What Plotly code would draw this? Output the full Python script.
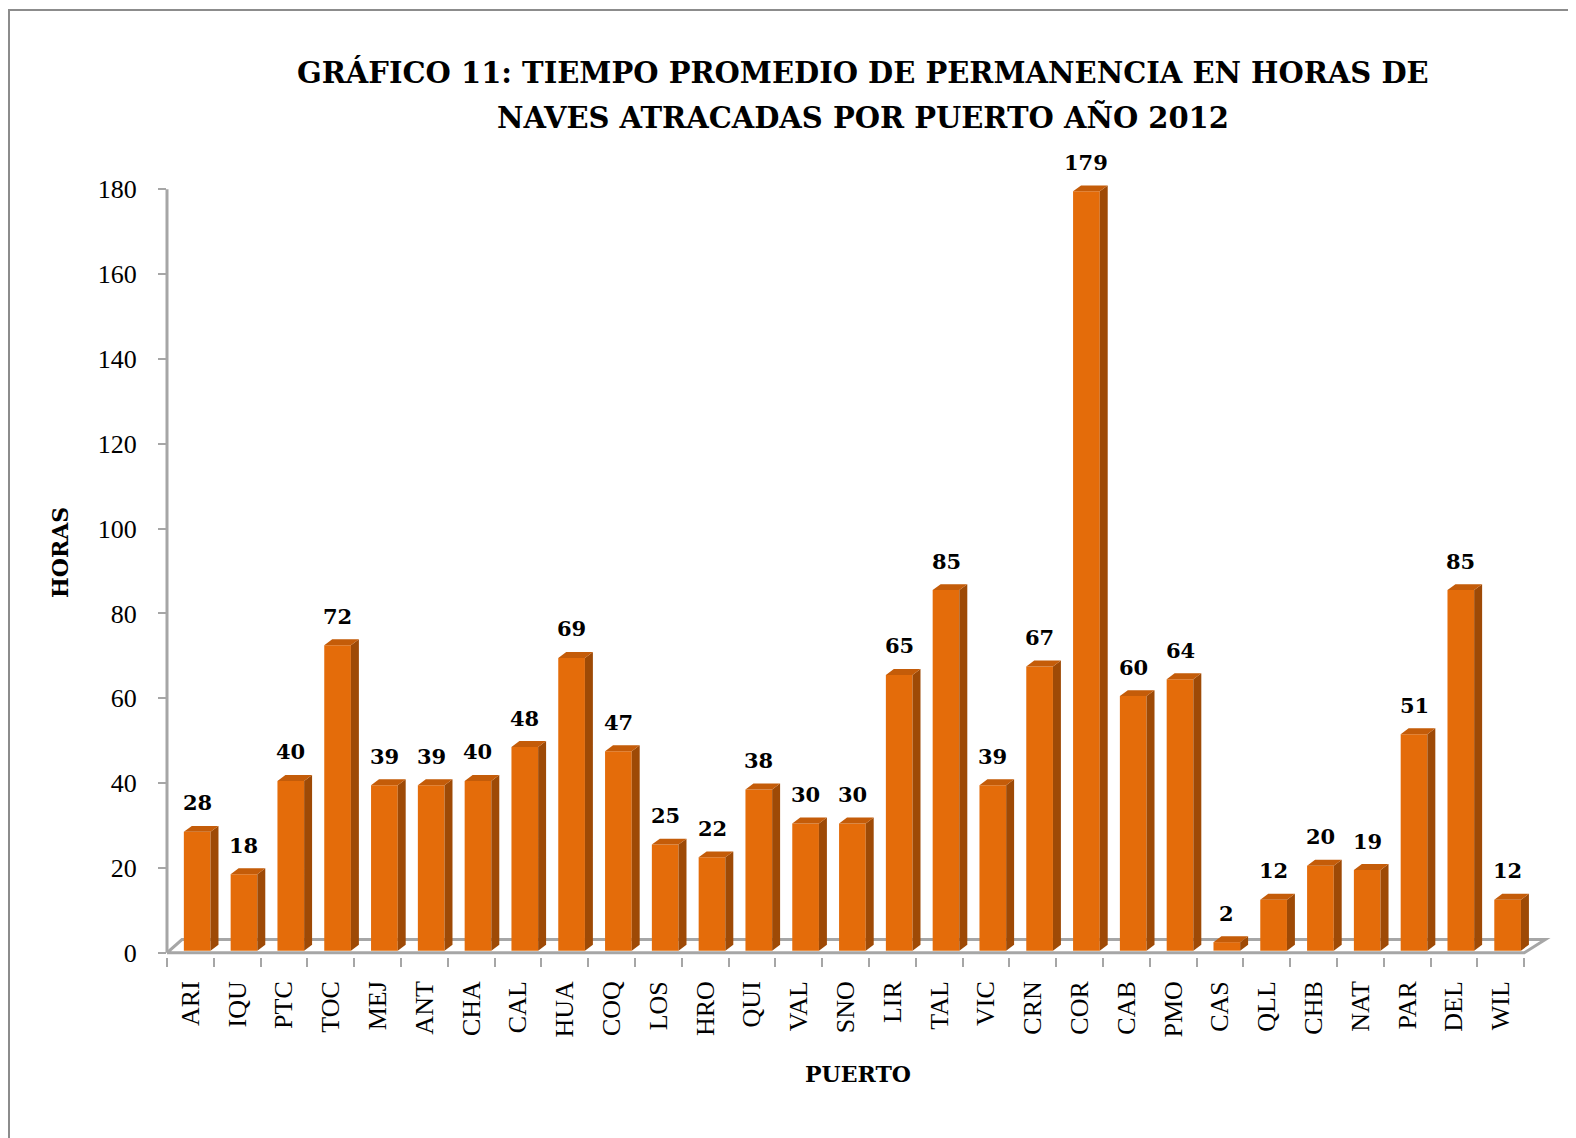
import plotly.graph_objects as go

# ---- data ----
puertos = ["ARI", "IQU", "PTC", "TOC", "MEJ", "ANT", "CHA", "CAL", "HUA", "COQ",
           "LOS", "HRO", "QUI", "VAL", "SNO", "LIR", "TAL", "VIC", "CRN", "COR",
           "CAB", "PMO", "CAS", "QLL", "CHB", "NAT", "PAR", "DEL", "WIL"]
horas = [28, 18, 40, 72, 39, 39, 40, 48, 69, 47,
         25, 22, 38, 30, 30, 65, 85, 39, 67, 179,
         60, 64, 2, 12, 20, 19, 51, 85, 12]
y_ticks = [0, 20, 40, 60, 80, 100, 120, 140, 160, 180]
title_lines = ["GRÁFICO 11: TIEMPO PROMEDIO DE PERMANENCIA EN HORAS DE",
               "NAVES ATRACADAS POR PUERTO AÑO 2012"]

# ---- style constants (3D look) ----
FRONT = "#E46C0A"
SIDE = "#9E4A06"
TOP = "#C45C09"
BAR_OFF = -0.14
BAR_W = 0.57
DX = 0.17
DY = 1.4
LIFT = 0.5
GRAY = "#A6A6A6"

idx = list(range(len(puertos)))

fig = go.Figure()

# front faces
fig.add_trace(go.Bar(
    x=idx, y=horas, base=[LIFT] * len(horas),
    width=BAR_W, offset=BAR_OFF,
    marker=dict(color=FRONT, line=dict(width=0)),
    hoverinfo="skip", showlegend=False,
))

# side faces and top faces
sx, sy, tx, ty = [], [], [], []
for i, v in zip(idx, horas):
    r = i + BAR_OFF + BAR_W
    l = i + BAR_OFF
    top = v + LIFT
    sx += [r, r + DX, r + DX, r, r, None]
    sy += [LIFT, LIFT + DY, top + DY, top, LIFT, None]
    tx += [l, r, r + DX, l + DX, l, None]
    ty += [top, top, top + DY, top + DY, top, None]

fig.add_trace(go.Scatter(x=sx, y=sy, mode="lines", fill="toself",
                         fillcolor=SIDE, line=dict(width=0, color=SIDE),
                         hoverinfo="skip", showlegend=False))
fig.add_trace(go.Scatter(x=tx, y=ty, mode="lines", fill="toself",
                         fillcolor=TOP, line=dict(width=0, color=TOP),
                         hoverinfo="skip", showlegend=False))

# data labels
for i, v in zip(idx, horas):
    fig.add_annotation(x=i + BAR_OFF + BAR_W / 2, y=v + LIFT, xref="x", yref="y",
                       text=f"<b>{v}</b>", showarrow=False, yanchor="middle",
                       yshift=29,
                       font=dict(family="DejaVu Serif", size=21, color="black"))

n = len(puertos)
# floor
fig.add_shape(type="path", xref="x", yref="y", layer="below",
              path=f"M -0.5,0 L {n - 0.5},0 L {n - 0.05},3.1 L -0.18,3.1 Z",
              line=dict(color=GRAY, width=3), fillcolor="white")
# y axis line
fig.add_shape(type="line", xref="paper", yref="y", x0=0, x1=0, y0=0, y1=180,
              line=dict(color=GRAY, width=3), layer="above")

# outer border
fig.add_shape(type="rect", xref="paper", yref="paper",
              x0=(9 - 167) / 1390, x1=1.2, y0=-0.5, y1=(957 - 10) / 789,
              line=dict(color="#8C8C8C", width=2), fillcolor="rgba(0,0,0,0)",
              layer="below")

# titles
for line, py in zip(title_lines, [72, 117]):
    fig.add_annotation(xref="paper", yref="paper", x=(863 - 167) / 1390, y=(957 - py) / 789,
                       text=f"<b>{line}</b>",
                       showarrow=False, xanchor="center", yanchor="middle",
                       font=dict(family="DejaVu Serif", size=29, color="black"))
fig.add_annotation(xref="paper", yref="paper", x=(858 - 167) / 1390, y=(957 - 1074) / 789,
                   text="<b>PUERTO</b>", showarrow=False,
                   xanchor="center", yanchor="middle",
                   font=dict(family="DejaVu Serif", size=22, color="black"))
fig.add_annotation(xref="paper", yref="paper", x=(60 - 167) / 1390, y=(957 - 553) / 789,
                   text="<b>HORAS</b>", showarrow=False, textangle=-90,
                   xanchor="center", yanchor="middle",
                   font=dict(family="DejaVu Serif", size=22, color="black"))

fig.update_layout(
    width=1568, height=1130,
    margin=dict(l=159, r=19, t=160, b=181),
    paper_bgcolor="white", plot_bgcolor="white",
    showlegend=False,
    xaxis=dict(
        range=[-0.5, n + 0.2],
        tickvals=idx, ticktext=puertos, tickangle=-90,
        ticks="", showline=False, showgrid=False, zeroline=False,
        ticklabelstandoff=18,
        tickfont=dict(family="Liberation Serif", size=26, color="black"),
        minor=dict(tickvals=[i - 0.5 for i in range(n + 1)], ticks="outside",
                   ticklen=9, tickwidth=2, tickcolor=GRAY),
    ),
    yaxis=dict(
        range=[-1, 185],
        tickvals=y_ticks, ticks="outside", ticklen=8, tickwidth=2, tickcolor=GRAY,
        showline=False, showgrid=False, zeroline=False,
        ticklabelstandoff=16,
        tickfont=dict(family="Liberation Serif", size=26, color="black"),
    ),
)

fig.write_html("out.html")
